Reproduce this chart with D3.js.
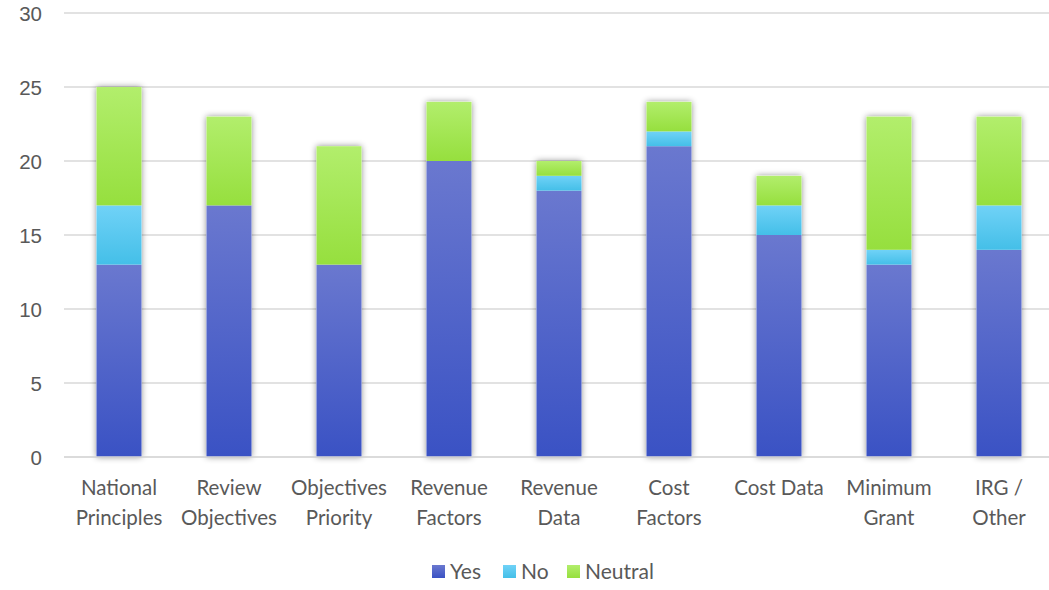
<!DOCTYPE html>
<html lang="en">
<head>
  <meta charset="UTF-8">
  <title>Survey Responses</title>
  <script src="https://d3js.org/d3.v7.min.js"></script>
  <style>
    body { margin: 0; background: #fff; font-family: Lato, "Open Sans", sans-serif; }
    .axis text { fill: #595959; font-size: 20.5px; }
    .legend text { fill: #595959; font-size: 21px; }
  </style>
</head>
<body>
  <svg width="1049" height="590"></svg>
  <script>
    const categories = [
      ["National", "Principles"], ["Review", "Objectives"], ["Objectives", "Priority"],
      ["Revenue", "Factors"], ["Revenue", "Data"], ["Cost", "Factors"],
      ["Cost Data"], ["Minimum", "Grant"], ["IRG /", "Other"]
    ];
    const yes = [13, 17, 13, 20, 18, 21, 15, 13, 14];
    const no = [4, 0, 0, 0, 1, 1, 2, 1, 3];
    const neutral = [8, 6, 8, 4, 1, 2, 2, 9, 6];
    const seriesNames = ["Yes", "No", "Neutral"];
    const yTicks = [0, 5, 10, 15, 20, 25, 30];

    const colors = {
      Yes: ["#6a78cf", "#3a52c4"],
      No: ["#70d2f7", "#44bfe8"],
      Neutral: ["#b2ee6c", "#96df3e"]
    };

    const svg = d3.select("svg");
    const defs = svg.append("defs");
    seriesNames.forEach(s => {
      const g = defs.append("linearGradient").attr("id", "grad-" + s)
        .attr("x1", 0).attr("y1", 0).attr("x2", 0).attr("y2", 1);
      g.append("stop").attr("offset", "0%").attr("stop-color", colors[s][0]);
      g.append("stop").attr("offset", "100%").attr("stop-color", colors[s][1]);
    });
    defs.append("filter").attr("id", "shadow")
      .attr("x", "-30%").attr("y", "-10%").attr("width", "160%").attr("height", "120%")
      .append("feDropShadow").attr("dx", 0).attr("dy", 0).attr("stdDeviation", 3)
      .attr("flood-color", "#000").attr("flood-opacity", 0.45);

    const plotLeft = 64, plotRight = 1054, plotTop = 13, plotBottom = 457;

    const labels = categories.map(d => d.join(" "));
    const x = d3.scaleBand().domain(labels).range([plotLeft, plotRight]).paddingInner(0.59).paddingOuter(0.295);
    const y = d3.scaleLinear().domain([0, 30]).range([plotBottom, plotTop]);

    // grid
    svg.append("g").selectAll("line").data(yTicks).join("line")
      .attr("x1", plotLeft).attr("x2", 1049)
      .attr("y1", d => y(d)).attr("y2", d => y(d))
      .attr("stroke", "#d9d9d9").attr("stroke-width", 1.5);

    const yAxis = svg.append("g").attr("class", "axis")
      .attr("transform", `translate(${plotLeft},0)`)
      .call(d3.axisLeft(y).tickValues(yTicks).tickSize(0).tickPadding(22));
    yAxis.select(".domain").remove();
    yAxis.selectAll("text").attr("dy", "0.35em");

    const table = labels.map((c, i) => ({ cat: c, Yes: yes[i], No: no[i], Neutral: neutral[i] }));
    const stacked = d3.stack().keys(seriesNames)(table);

    // shadow under whole bar
    svg.append("g").selectAll("rect").data(table).join("rect")
      .attr("x", d => x(d.cat)).attr("width", x.bandwidth())
      .attr("y", d => y(d.Yes + d.No + d.Neutral))
      .attr("height", d => y(0) - y(d.Yes + d.No + d.Neutral))
      .attr("fill", "#fff").attr("filter", "url(#shadow)");

    svg.append("g").selectAll("g").data(stacked).join("g")
      .attr("fill", d => `url(#grad-${d.key})`)
      .selectAll("rect").data(d => d.filter(p => p[1] > p[0])).join("rect")
      .attr("x", d => x(d.data.cat)).attr("width", x.bandwidth())
      .attr("y", d => y(d[1])).attr("height", d => y(d[0]) - y(d[1]));

    // baseline
    svg.append("line").attr("x1", plotLeft).attr("x2", 1049)
      .attr("y1", y(0)).attr("y2", y(0)).attr("stroke", "#d9d9d9").attr("stroke-width", 1.5);

    // category labels
    const xAxis = svg.append("g").attr("class", "axis");
    categories.forEach((lines, i) => {
      const cx = x(labels[i]) + x.bandwidth() / 2;
      const t = xAxis.append("text").attr("text-anchor", "middle").attr("x", cx).attr("y", 495);
      lines.forEach((ln, j) => t.append("tspan")
        .attr("x", cx).attr("dy", j === 0 ? 0 : 30).text(ln));
    });

    // legend
    const legend = svg.append("g").attr("class", "legend");
    const legendX = [432, 503, 567];
    seriesNames.forEach((s, i) => {
      legend.append("rect").attr("x", legendX[i]).attr("y", 565).attr("width", 13).attr("height", 13)
        .attr("fill", `url(#grad-${s})`);
      legend.append("text").attr("x", legendX[i] + 18).attr("y", 579).text(s);
    });
  </script>
</body>
</html>
